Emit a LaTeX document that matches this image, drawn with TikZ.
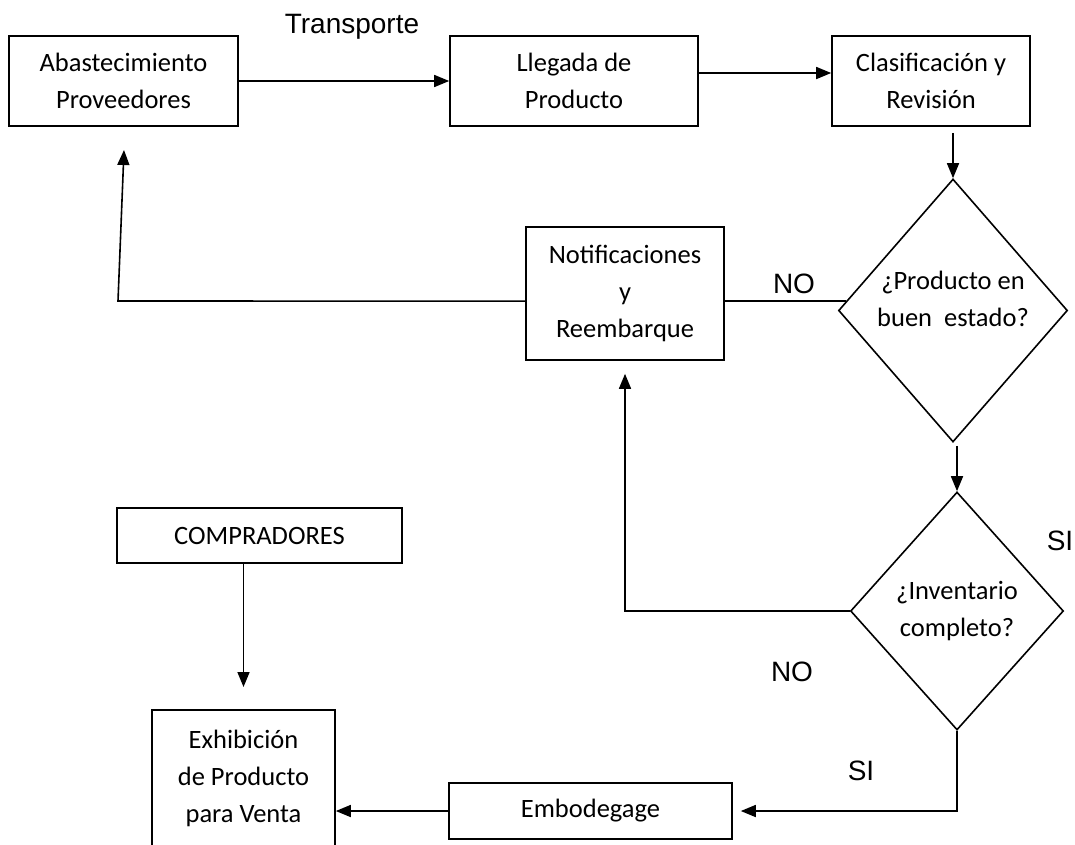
\documentclass[tikz,border=0pt]{standalone}
\usepackage{fontspec}
\setmainfont{Carlito}
\newfontfamily\arialfont{Liberation Sans}
\usetikzlibrary{shapes.geometric,arrows.meta}

\begin{document}
\begin{tikzpicture}[x=1pt, y=-1pt, line width=1.6pt, >={Triangle[length=15pt,width=12pt]},
    boxtext/.style={font=\fontsize{26.5}{37}\selectfont, align=center},
    tag/.style={font=\arialfont\fontsize{28}{32}\selectfont, anchor=base}]
   \useasboundingbox (0,0) rectangle (1075,844);
   \clip (0,0) rectangle (1075,844);
   \begin{scope}[every node/.style={rectangle,draw,boxtext,inner sep=0pt}]
    \node (abast) [minimum width=229pt, minimum height=90pt] at (123.5,81) {Abastecimiento\\Proveedores};
    \node (llegada) [minimum width=248pt, minimum height=90pt] at (574,81) {Llegada de\\Producto};
    \node (clasif) [minimum width=198pt, minimum height=90pt] at (931,81) {Clasificación y\\Revisión};
    \node (d1) [diamond, minimum width=229pt, minimum height=263pt,
        label={[draw=none,boxtext,yshift=12pt]center:{¿Producto en\\buen\ \ estado?}}] at (953,310.5) {};
    \node (notif) [minimum width=198pt, minimum height=133pt] at (625,293.5) {Notificaciones\\y\\Reembarque};
    \node (d2) [diamond, minimum width=213pt, minimum height=238pt] at (957,611) {¿Inventario\\completo?};
    \node (comp) [minimum width=285pt, minimum height=55pt] at (259.5,535.5) {COMPRADORES};
    \node (embo) [minimum width=283pt, minimum height=56pt] at (590.5,811) {Embodegage};
    \node (exhib) [anchor=north, minimum width=183pt, minimum height=138pt] at (243.5,709) {Exhibición\\de Producto\\para Venta};
   \end{scope}
   \coordinate (corner) at (118,301);
   \coordinate (ret) at (124,150);
   \begin{scope}[tag]
    \node (transp) at (352,33) {Transporte};
    \node (no1) at (794,293) {NO};
    \node (si1) at (1060,550) {SI};
    \node (no2) at (792,681) {NO};
    \node (si2) at (861,780) {SI};
   \end{scope}
   \begin{scope}[->]
    \draw (abast) -- (llegada);
    \draw ([yshift=8pt]llegada.east) -- ([yshift=8pt]clasif.west);
    \draw[shorten <=6pt] (d1.north |- clasif.south) -- (d1.north);
    \draw[shorten <=3pt] (d2.north |- d1.south) -- (d2.north);
    \draw[-] (notif.east |- d1.175) -- (d1.175);
    \draw (notif.west |- d1.175) -- (corner) -- (ret);
    \draw[shorten >=13pt] (d2.west) -| (notif.south);
    \draw[shorten >=8pt] (d2.south) |- (embo.east);
    \draw (embo.west) -- (embo.west -| exhib.east);
    \draw[shorten >=22pt] (comp.south -| exhib.north) -- (exhib.north);
   \end{scope}
\end{tikzpicture}
\end{document}
